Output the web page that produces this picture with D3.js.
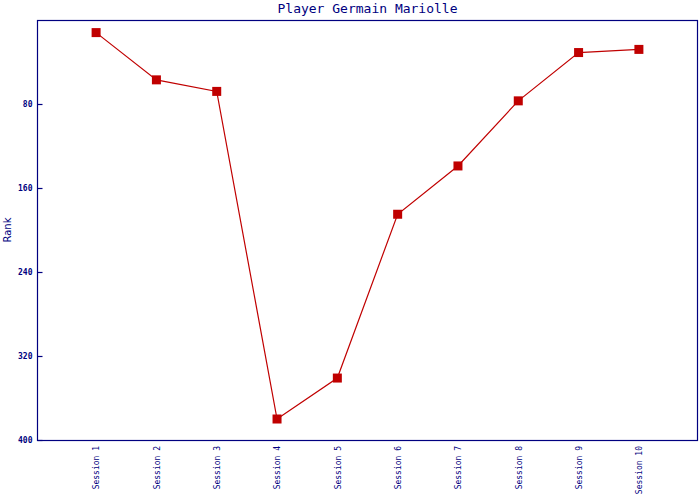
<!DOCTYPE html>
<html><head><meta charset="utf-8">
<script src="https://cdn.jsdelivr.net/npm/d3@7"></script>
<style>body{margin:0;background:#fff}</style>
</head><body>
<svg id="c" width="700" height="500"></svg>
<script>
const categories = ["Session 1","Session 2","Session 3","Session 4","Session 5","Session 6","Session 7","Session 8","Session 9","Session 10"];
const ranks = [12, 57, 68, 380, 341, 185, 139, 77, 31, 28];
const yTicks = [80, 160, 240, 320, 400];
const title = "Player Germain Mariolle";
const yLabel = "Rank";

const W = 700, H = 500;
const m = {left: 37, right: 2, top: 20, bottom: 60};
const axisColor = "#000080", lineColor = "#C00000";
const svg = d3.select("#c");

const x = d3.scalePoint().domain(categories).range([m.left, W - m.right]).padding(0.98);
const y = d3.scaleLinear().domain([0, 400]).range([m.top, H - m.bottom]);

// frame
svg.append("rect").attr("x", m.left + 0.5).attr("y", m.top + 0.5)
  .attr("width", W - m.right - m.left - 1).attr("height", H - m.bottom - m.top)
  .attr("fill", "none").attr("stroke", axisColor).attr("stroke-width", 1.2);

// y axis
const ya = svg.append("g").attr("transform", `translate(${m.left + 0.5},0)`)
  .call(d3.axisRight(y).tickValues(yTicks).tickSize(5).tickFormat(d3.format("d")));
ya.select(".domain").remove();
ya.selectAll("line").attr("stroke", axisColor).attr("stroke-width", 1.2);
ya.selectAll("text").attr("x", -5).attr("text-anchor", "end").attr("fill", axisColor)
  .style("font-family", "'DejaVu Sans Mono', monospace").style("font-size", "8px").style("font-weight", "bold");

// x labels
const xa = svg.append("g").attr("transform", `translate(0,${H - m.bottom})`)
  .call(d3.axisBottom(x).tickSize(0));
xa.select(".domain").remove();
xa.selectAll("text")
  .attr("transform", "rotate(-90)")
  .attr("x", -6).attr("y", 0).attr("dy", "0.35em")
  .attr("text-anchor", "end").attr("fill", axisColor)
  .style("font-family", "'DejaVu Sans Mono', monospace").style("font-size", "8px");

// title
svg.append("text").attr("x", (m.left + W - m.right) / 2).attr("y", 13)
  .attr("text-anchor", "middle").attr("fill", axisColor)
  .style("font-family", "'DejaVu Sans Mono', monospace").style("font-size", "13px")
  .text(title);

// y label
svg.append("text").attr("transform", `translate(11,${(m.top + H - m.bottom) / 2}) rotate(-90)`)
  .attr("text-anchor", "middle").attr("fill", axisColor)
  .style("font-family", "'DejaVu Sans', sans-serif").style("font-size", "10px")
  .text(yLabel);

// line
svg.append("path").datum(ranks)
  .attr("fill", "none").attr("stroke", lineColor).attr("stroke-width", 1.2)
  .attr("d", d3.line().x((d, i) => x(categories[i])).y(d => y(d)));

// markers
svg.selectAll("rect.mk").data(ranks).enter().append("rect").attr("class", "mk")
  .attr("x", (d, i) => x(categories[i]) - 4.5).attr("y", d => y(d) - 4.5)
  .attr("width", 9).attr("height", 9).attr("fill", lineColor);
</script>
</body></html>
